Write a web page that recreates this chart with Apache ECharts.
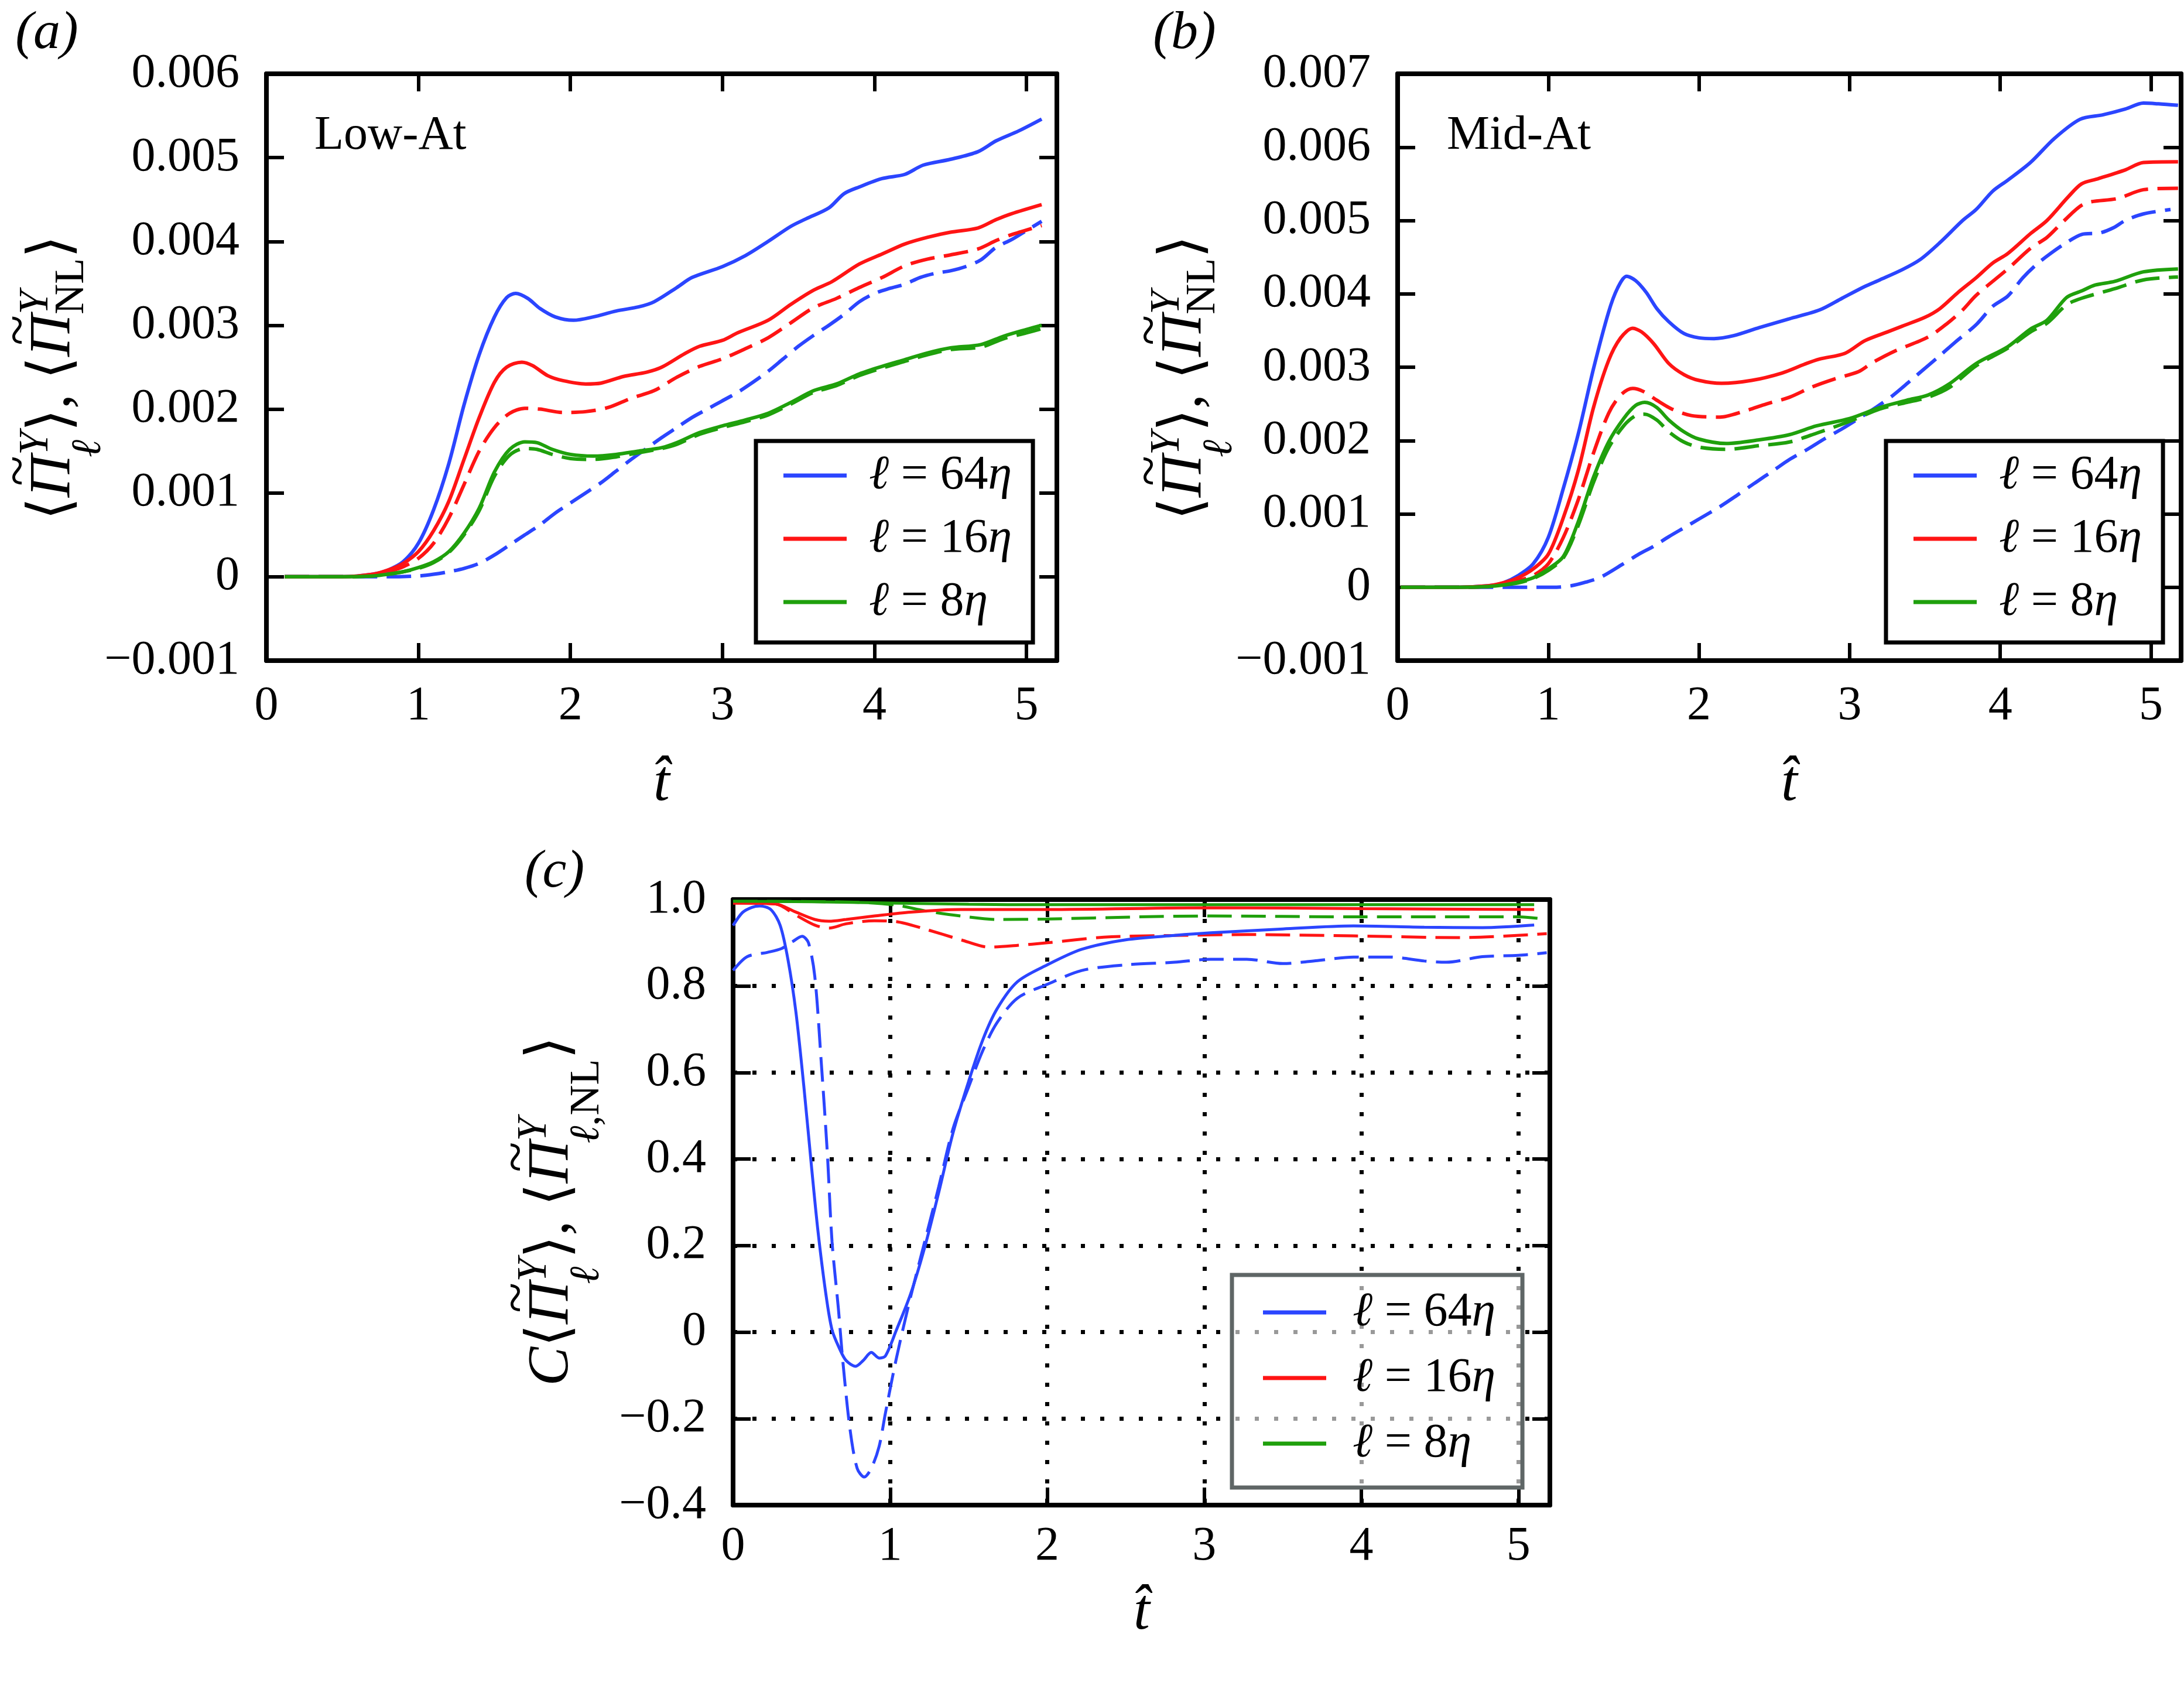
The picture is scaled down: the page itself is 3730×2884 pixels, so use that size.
<!DOCTYPE html>
<html><head><meta charset="utf-8">
<script src="https://cdn.jsdelivr.net/npm/echarts@6/dist/echarts.min.js"></script>
<style>html,body{margin:0;padding:0;background:#fff}#c{width:3730px;height:2884px}</style>
</head><body><div id="c"></div>
<script>
// ---------------- data ----------------
const xTicks = [0, 1, 2, 3, 4, 5];
const xMax = 5.2;
const yTicksA = [-0.001, 0, 0.001, 0.002, 0.003, 0.004, 0.005, 0.006];
const yTicksB = [-0.001, 0, 0.001, 0.002, 0.003, 0.004, 0.005, 0.006, 0.007];
const yTicksC = [-0.4, -0.2, 0, 0.2, 0.4, 0.6, 0.8, 1.0];
const scaleNames = ['64', '16', '8'];

// panel (a) Low-At
const aB64 = [[0.12,0],[0.5,0],[0.7,0.00003],[0.8,0.00008],[0.9,0.00018],[1.0,0.0004],[1.1,0.0008],[1.2,0.00135],[1.3,0.00205],[1.4,0.00265],[1.5,0.0031],[1.58,0.00333],[1.64,0.00338],[1.72,0.00332],[1.8,0.0032],[1.9,0.0031],[2.02,0.00306],[2.15,0.0031],[2.3,0.00317],[2.45,0.00322],[2.55,0.00328],[2.7,0.00345],[2.8,0.00357],[3.0,0.0037],[3.15,0.00383],[3.3,0.004],[3.45,0.00418],[3.55,0.00427],[3.7,0.0044],[3.8,0.00457],[3.9,0.00465],[4.05,0.00475],[4.2,0.0048],[4.32,0.00491],[4.5,0.00498],[4.68,0.00507],[4.8,0.0052],[4.95,0.00532],[5.1,0.00546]];
const aB64nl = [[0.12,0],[0.8,0],[1.0,0.00001],[1.1,0.00003],[1.2,0.00006],[1.3,0.0001],[1.4,0.00016],[1.5,0.00026],[1.6,0.00038],[1.7,0.0005],[1.8,0.00062],[1.9,0.00076],[2.0,0.00088],[2.1,0.001],[2.2,0.00112],[2.3,0.00126],[2.4,0.0014],[2.5,0.00153],[2.6,0.00166],[2.7,0.00178],[2.8,0.0019],[2.9,0.002],[3.0,0.0021],[3.1,0.0022],[3.2,0.00232],[3.3,0.00245],[3.4,0.0026],[3.5,0.00275],[3.6,0.00288],[3.7,0.003],[3.8,0.00313],[3.9,0.00328],[4.0,0.00338],[4.1,0.00344],[4.2,0.00349],[4.3,0.00357],[4.4,0.00362],[4.5,0.00365],[4.6,0.0037],[4.7,0.00378],[4.8,0.00393],[4.9,0.00402],[5.0,0.00413],[5.1,0.00424]];
const aR16 = [[0.12,0],[0.5,0],[0.7,0.00003],[0.8,0.00008],[0.9,0.00016],[1.0,0.0003],[1.1,0.00055],[1.2,0.0009],[1.3,0.0014],[1.4,0.0019],[1.5,0.00232],[1.58,0.0025],[1.68,0.00256],[1.75,0.00252],[1.85,0.0024],[1.95,0.00234],[2.1,0.0023],[2.2,0.00231],[2.35,0.00239],[2.5,0.00244],[2.6,0.0025],[2.75,0.00266],[2.85,0.00275],[3.0,0.00282],[3.1,0.00291],[3.3,0.00306],[3.45,0.00325],[3.6,0.00342],[3.72,0.00352],[3.9,0.00373],[4.05,0.00385],[4.2,0.00397],[4.35,0.00405],[4.5,0.00411],[4.68,0.00416],[4.8,0.00426],[4.9,0.00433],[5.1,0.00444]];
const aR16nl = [[0.12,0],[0.5,0],[0.7,0.00002],[0.8,0.00006],[0.9,0.00012],[1.0,0.00022],[1.1,0.0004],[1.2,0.0007],[1.3,0.0011],[1.4,0.0015],[1.5,0.00178],[1.6,0.00195],[1.7,0.00201],[1.8,0.002],[1.95,0.00196],[2.1,0.00197],[2.25,0.00202],[2.4,0.00213],[2.55,0.00222],[2.7,0.00238],[2.85,0.00251],[3.0,0.0026],[3.15,0.00272],[3.3,0.00285],[3.45,0.00303],[3.6,0.00321],[3.75,0.00332],[3.9,0.00345],[4.05,0.00357],[4.2,0.00371],[4.35,0.00379],[4.5,0.00384],[4.68,0.00391],[4.8,0.00401],[4.9,0.00408],[5.1,0.00419]];
const aG8 = [[0.12,0],[0.5,0],[0.7,0.00001],[0.8,0.00003],[0.9,0.00006],[1.0,0.00011],[1.1,0.00018],[1.2,0.0003],[1.3,0.00052],[1.4,0.00082],[1.5,0.00125],[1.6,0.00152],[1.7,0.00161],[1.78,0.0016],[1.88,0.00152],[2.0,0.00146],[2.15,0.00144],[2.3,0.00146],[2.45,0.0015],[2.6,0.00154],[2.7,0.0016],[2.85,0.00172],[3.0,0.0018],[3.15,0.00187],[3.3,0.00195],[3.45,0.00208],[3.6,0.00222],[3.75,0.0023],[3.9,0.00242],[4.05,0.00251],[4.2,0.00259],[4.35,0.00267],[4.5,0.00273],[4.7,0.00277],[4.85,0.00287],[5.0,0.00295],[5.1,0.003]];
const aG8nl = [[0.12,0],[0.5,0],[0.7,0.00001],[0.8,0.00003],[0.9,0.00006],[1.0,0.0001],[1.1,0.00017],[1.2,0.00029],[1.3,0.0005],[1.4,0.00079],[1.5,0.0012],[1.6,0.00145],[1.7,0.00153],[1.78,0.00152],[1.88,0.00146],[2.0,0.00141],[2.15,0.0014],[2.3,0.00143],[2.45,0.00148],[2.6,0.00153],[2.7,0.00158],[2.85,0.0017],[3.0,0.00178],[3.15,0.00185],[3.3,0.00193],[3.45,0.00206],[3.6,0.0022],[3.75,0.00228],[3.9,0.0024],[4.05,0.00249],[4.2,0.00257],[4.35,0.00265],[4.5,0.00271],[4.7,0.00274],[4.85,0.00284],[5.0,0.00291],[5.1,0.00296]];

// panel (b) Mid-At
const bB64 = [[0.02,0],[0.4,0],[0.6,0.00002],[0.7,0.00006],[0.8,0.00016],[0.9,0.00032],[1.0,0.00068],[1.1,0.00135],[1.2,0.0021],[1.3,0.00298],[1.4,0.00375],[1.46,0.00408],[1.52,0.00424],[1.58,0.00418],[1.65,0.00402],[1.72,0.0038],[1.8,0.00362],[1.9,0.00346],[2.0,0.0034],[2.1,0.00339],[2.23,0.00343],[2.4,0.00354],[2.6,0.00366],[2.8,0.00378],[2.95,0.00394],[3.1,0.0041],[3.2,0.00419],[3.35,0.00433],[3.47,0.00447],[3.6,0.0047],[3.75,0.005],[3.84,0.00515],[3.95,0.0054],[4.05,0.00555],[4.2,0.00579],[4.36,0.00612],[4.53,0.00638],[4.68,0.00644],[4.83,0.00652],[4.95,0.0066],[5.05,0.00659],[5.18,0.00657]];
const bB64nl = [[0.02,0],[0.9,0],[1.03,0],[1.15,0.00002],[1.25,0.00007],[1.35,0.00014],[1.49,0.00031],[1.6,0.00045],[1.7,0.00056],[1.8,0.00069],[1.9,0.00081],[2.0,0.00093],[2.14,0.0011],[2.25,0.00125],[2.37,0.00142],[2.5,0.0016],[2.6,0.00174],[2.72,0.00188],[2.83,0.00202],[2.95,0.00216],[3.06,0.0023],[3.18,0.00246],[3.29,0.00262],[3.4,0.00281],[3.52,0.00302],[3.6,0.00316],[3.7,0.00334],[3.84,0.00358],[3.95,0.00383],[4.05,0.00397],[4.15,0.00422],[4.24,0.0044],[4.34,0.00456],[4.44,0.0047],[4.54,0.00481],[4.66,0.00483],[4.75,0.0049],[4.83,0.005],[4.95,0.00509],[5.13,0.00515]];
const bR16 = [[0.02,0],[0.4,0],[0.6,0.00002],[0.7,0.00006],[0.8,0.00013],[0.9,0.00025],[1.0,0.00045],[1.1,0.00095],[1.2,0.0016],[1.3,0.00245],[1.4,0.00309],[1.48,0.0034],[1.56,0.00353],[1.62,0.00348],[1.7,0.00332],[1.8,0.00305],[1.9,0.0029],[2.0,0.00282],[2.15,0.00278],[2.35,0.00282],[2.55,0.00292],[2.7,0.00304],[2.8,0.00311],[2.97,0.00319],[3.1,0.00336],[3.25,0.00348],[3.35,0.00356],[3.5,0.00368],[3.6,0.0038],[3.72,0.00402],[3.84,0.00422],[3.95,0.00442],[4.05,0.00455],[4.2,0.00482],[4.31,0.005],[4.45,0.00532],[4.54,0.0055],[4.65,0.00557],[4.83,0.00569],[4.95,0.00579],[5.18,0.0058]];
const bR16nl = [[0.02,0],[0.4,0],[0.6,0.00001],[0.7,0.00004],[0.8,0.00009],[0.9,0.00016],[1.0,0.00032],[1.1,0.00068],[1.2,0.0012],[1.3,0.00183],[1.4,0.00237],[1.48,0.00262],[1.56,0.00271],[1.63,0.00267],[1.72,0.00255],[1.82,0.00243],[1.95,0.00234],[2.14,0.00232],[2.3,0.0024],[2.45,0.0025],[2.6,0.00259],[2.75,0.00273],[2.9,0.00284],[3.06,0.00294],[3.15,0.00306],[3.3,0.00322],[3.52,0.00341],[3.65,0.0036],[3.75,0.00378],[3.84,0.00398],[4.05,0.00434],[4.2,0.00462],[4.31,0.00477],[4.42,0.00499],[4.56,0.00523],[4.78,0.0053],[4.95,0.00542],[5.18,0.00544]];
const bG8 = [[0.02,0],[0.4,0],[0.6,0.00001],[0.7,0.00003],[0.8,0.00007],[0.9,0.00013],[1.0,0.00025],[1.1,0.00042],[1.2,0.0009],[1.3,0.0015],[1.4,0.00198],[1.5,0.0023],[1.58,0.00248],[1.64,0.00252],[1.72,0.00245],[1.8,0.00228],[1.9,0.00212],[2.0,0.00202],[2.18,0.00196],[2.4,0.00201],[2.6,0.00208],[2.78,0.0022],[3.0,0.0023],[3.2,0.00245],[3.38,0.00255],[3.52,0.00262],[3.66,0.00277],[3.84,0.00305],[4.05,0.00328],[4.2,0.00352],[4.31,0.00364],[4.44,0.00395],[4.54,0.00404],[4.63,0.00412],[4.76,0.00417],[4.95,0.0043],[5.18,0.00434]];
const bG8nl = [[0.02,0],[0.4,0],[0.6,0.00001],[0.7,0.00003],[0.8,0.00006],[0.9,0.00012],[1.0,0.00023],[1.1,0.0004],[1.2,0.00085],[1.3,0.00143],[1.4,0.0019],[1.5,0.0022],[1.58,0.00234],[1.64,0.00236],[1.72,0.00228],[1.8,0.00212],[1.9,0.00198],[2.0,0.00191],[2.18,0.00188],[2.4,0.00193],[2.6,0.00198],[2.78,0.0021],[3.01,0.00227],[3.2,0.00243],[3.38,0.00252],[3.52,0.00259],[3.66,0.00272],[3.84,0.00302],[4.05,0.00326],[4.2,0.00348],[4.31,0.0036],[4.44,0.00385],[4.54,0.00394],[4.76,0.00407],[4.95,0.00419],[5.18,0.00423]];

// panel (c) correlation
const cB64 = [[0,0.94],[0.06,0.97],[0.12,0.982],[0.17,0.985],[0.24,0.977],[0.3,0.94],[0.35,0.86],[0.4,0.74],[0.45,0.57],[0.5,0.38],[0.54,0.235],[0.59,0.09],[0.63,0.005],[0.68,-0.04],[0.72,-0.066],[0.78,-0.079],[0.83,-0.065],[0.88,-0.047],[0.93,-0.06],[0.97,-0.055],[1.04,0.005],[1.13,0.088],[1.22,0.196],[1.31,0.324],[1.4,0.46],[1.5,0.58],[1.59,0.676],[1.68,0.747],[1.81,0.81],[2.0,0.849],[2.22,0.885],[2.5,0.907],[2.81,0.917],[3.04,0.923],[3.5,0.932],[3.95,0.939],[4.4,0.936],[4.77,0.935],[5.1,0.941]];
const cB64nl = [[0,0.836],[0.09,0.868],[0.22,0.878],[0.31,0.887],[0.38,0.903],[0.44,0.915],[0.48,0.9],[0.52,0.823],[0.56,0.631],[0.6,0.414],[0.63,0.209],[0.67,0.056],[0.7,-0.072],[0.745,-0.226],[0.79,-0.315],[0.835,-0.335],[0.88,-0.315],[0.93,-0.264],[0.97,-0.187],[1.04,-0.06],[1.13,0.081],[1.22,0.209],[1.31,0.337],[1.4,0.47],[1.5,0.567],[1.59,0.651],[1.68,0.715],[1.81,0.772],[2.0,0.804],[2.22,0.836],[2.5,0.849],[2.81,0.855],[3.04,0.862],[3.27,0.862],[3.5,0.852],[3.72,0.859],[3.95,0.867],[4.18,0.867],[4.4,0.858],[4.54,0.855],[4.77,0.868],[5.0,0.871],[5.18,0.877]];
const cR16 = [[0,0.992],[0.27,0.99],[0.4,0.971],[0.52,0.954],[0.61,0.95],[0.72,0.954],[0.9,0.962],[1.13,0.971],[1.45,0.977],[2.0,0.977],[3.04,0.981],[4.0,0.979],[5.1,0.977]];
const cR16nl = [[0,0.992],[0.27,0.99],[0.4,0.964],[0.52,0.941],[0.61,0.934],[0.72,0.944],[0.9,0.951],[1.04,0.949],[1.22,0.932],[1.45,0.907],[1.63,0.89],[1.81,0.894],[2.0,0.9],[2.36,0.913],[2.81,0.917],[3.27,0.919],[3.95,0.916],[4.63,0.912],[5.18,0.921]];
const cG8 = [[0,0.996],[0.5,0.995],[1.0,0.992],[1.5,0.989],[2.0,0.988],[3.0,0.988],[4.0,0.988],[5.1,0.988]];
const cG8nl = [[0,0.996],[0.77,0.994],[1.04,0.987],[1.22,0.974],[1.45,0.962],[1.68,0.954],[2.0,0.955],[2.59,0.96],[3.04,0.962],[3.95,0.96],[5.0,0.96],[5.18,0.954]];

// ---------------- styling ----------------
const SERIF = "'Liberation Serif', 'Times New Roman', 'DejaVu Serif', serif";
const BLUE = '#2b45ff', RED = '#ff1414', GREEN = '#1fa00c';
const grids = [
  {left: 455, top: 126, width: 1350, height: 1002},
  {left: 2387, top: 126, width: 1338, height: 1002},
  {left: 1252, top: 1536, width: 1395, height: 1034}
];
const FRAME = 8;
const TICK_FONT = 82;

function findTick(ticks, v) {
  for (const t of ticks) if (Math.abs(t - v) < 1e-9) return t;
  return null;
}
function yFmt(ticks, dec) {
  return function (v) {
    const t = findTick(ticks, v);
    if (t === null) return '';
    if (Math.abs(t) < 1e-12) return '0';
    return (t < 0 ? '\u2212' : '') + Math.abs(t).toFixed(dec);
  };
}
function xFmt(v) {
  const t = findTick(xTicks, v);
  return t === null ? '' : String(t);
}

const xAxes = [], yAxes = [];
function addAxes(g, yTicks, dec, dotted, xMargin) {
  const tickStyle = {inside: true, length: 30, lineStyle: {color: '#000', width: 6}};
  const split = {show: dotted, lineStyle: {color: '#000', width: 7, type: [7, 26]}};
  const yMin = yTicks[0], yMaxV = yTicks[yTicks.length - 1];
  const yInt = +(yTicks[1] - yTicks[0]).toPrecision(6);
  xAxes.push({gridIndex: g, type: 'value', position: 'bottom', min: xTicks[0], max: xMax, interval: 1,
    axisLine: {show: true, onZero: false, lineStyle: {color: '#000', width: FRAME}},
    axisTick: tickStyle,
    axisLabel: {margin: xMargin, fontSize: TICK_FONT, fontFamily: SERIF, color: '#000', formatter: xFmt},
    splitLine: split});
  xAxes.push({gridIndex: g, type: 'value', position: 'top', min: xTicks[0], max: xMax, interval: 1,
    axisLine: {show: true, onZero: false, lineStyle: {color: '#000', width: FRAME}},
    axisTick: tickStyle, axisLabel: {show: false}, splitLine: {show: false}});
  yAxes.push({gridIndex: g, type: 'value', position: 'left', min: yMin, max: yMaxV, interval: yInt,
    axisLine: {show: true, onZero: false, lineStyle: {color: '#000', width: FRAME}},
    axisTick: tickStyle,
    axisLabel: {margin: 46, fontSize: TICK_FONT, fontFamily: SERIF, color: '#000', formatter: yFmt(yTicks, dec)},
    splitLine: split});
  yAxes.push({gridIndex: g, type: 'value', position: 'right', min: yMin, max: yMaxV, interval: yInt,
    axisLine: {show: true, onZero: false, lineStyle: {color: '#000', width: FRAME}},
    axisTick: tickStyle, axisLabel: {show: false}, splitLine: {show: false}});
}
addAxes(0, yTicksA, 3, false, 37);
addAxes(1, yTicksB, 3, false, 37);
addAxes(2, yTicksC, 1, true, 30);

const series = [];
function addLine(g, name, data, color, dashed, width) {
  series.push({type: 'line', name: name, xAxisIndex: g * 2, yAxisIndex: g * 2, data: data,
    symbol: 'none', showSymbol: false, smooth: 0.3, clip: true, animation: false,
    lineStyle: {color: color, width: width, type: dashed ? [42, 16] : 'solid', cap: 'butt'},
    itemStyle: {color: color}, z: dashed ? 3 : 4, silent: true});
}
const panels = [
  [aB64, aB64nl, aR16, aR16nl, aG8, aG8nl],
  [bB64, bB64nl, bR16, bR16nl, bG8, bG8nl],
  [cB64, cB64nl, cR16, cR16nl, cG8, cG8nl]
];
const colors = [BLUE, RED, GREEN];
panels.forEach((p, g) => {
  const w = g === 2 ? 5 : 6;
  for (let k = 0; k < 3; k++) {
    addLine(g, 'l' + scaleNames[k] + 'nl', p[2 * k + 1], colors[k], true, w);
    addLine(g, 'l' + scaleNames[k], p[2 * k], colors[k], false, w);
  }
});

function legendCfg(left, top, pad, border, bg, gap, textPad) {
  return {
    orient: 'vertical', left: left, top: top, itemWidth: 108, itemHeight: 7, itemGap: gap,
    padding: pad, borderColor: border, borderWidth: 7, backgroundColor: bg, borderRadius: 0,
    selectedMode: false,
    data: scaleNames.map(s => ({name: 'l' + s, icon: 'rect'})),
    formatter: function (name) {
      return '{g|\u2113}{n| = ' + name.slice(1) + '}{e|\u03b7}';
    },
    textStyle: {fontSize: 82, fontFamily: SERIF, color: '#000', lineHeight: 82,
      rich: {
        g: {fontSize: 82, fontFamily: SERIF, fontStyle: 'italic', lineHeight: 82, padding: [0, 0, 0, textPad], color: '#000'},
        n: {fontSize: 82, fontFamily: SERIF, lineHeight: 82, color: '#000'},
        e: {fontSize: 82, fontFamily: SERIF, fontStyle: 'italic', lineHeight: 82, color: '#000'}
      }}
  };
}

// ---- rotated math labels built from measured text pieces ----
const mctx = document.createElement('canvas').getContext('2d');
function fontStr(size, italic) { return (italic ? 'italic ' : 'normal ') + 'normal ' + size + 'px ' + SERIF; }
function measure(t, size, italic) { mctx.font = fontStr(size, italic); return mctx.measureText(t).width; }
function mathLabel(x0, y0, pieces) {
  let cx = 0;
  const kids = [];
  const put = (p, x) => { kids.push({x: x + (p.dx || 0), y: p.dy || 0, t: p.t, s: p.s, it: !!p.it}); return measure(p.t, p.s, p.it) + (p.dx || 0); };
  for (const p of pieces) {
    if (p.rows) {
      let maxW = 0;
      for (const row of p.rows) {
        let rx = cx;
        for (const q of row) rx += put(q, rx);
        maxW = Math.max(maxW, rx - cx);
      }
      cx += maxW;
      continue;
    }
    const w = measure(p.t, p.s, p.it);
    kids.push({x: cx, y: p.dy || 0, t: p.t, s: p.s, it: !!p.it});
    if (p.tilde) {
      const tw = measure('~', 96, false);
      kids.push({x: cx + (w - tw) / 2 + 9, y: -57, t: '~', s: 96, it: false});
    }
    cx += w;
  }
  const W = cx;
  return {type: 'group', x: x0, y: y0, rotation: Math.PI / 2, silent: true, z: 10,
    children: kids.map(k => ({type: 'text', x: k.x - W / 2, y: k.y, silent: true,
      style: {text: k.t, fontSize: k.s, fontFamily: SERIF, fontStyle: k.it ? 'italic' : 'normal',
        fill: '#000', align: 'left', verticalAlign: 'middle'}}))};
}
const MAIN = 100, SUB = 72;
const P_PI = {t: '\u03a0', s: MAIN, it: true, tilde: true};
const SUP_Y = {t: 'Y', s: SUB, it: true, dy: -30};
const SUB_L = {t: '\u2113', s: SUB, it: true, dy: 60, dx: -4};
const labelABPieces = [
  {t: '\u27e8', s: MAIN}, P_PI, {rows: [[SUP_Y], [SUB_L]]},
  {t: '\u27e9, \u27e8', s: MAIN}, P_PI, {rows: [[SUP_Y], [{t: 'NL', s: SUB, dy: 31}]]},
  {t: '\u27e9', s: MAIN}
];
const labelCPieces = [
  {t: 'C', s: MAIN, it: true}, {t: '\u27e8', s: MAIN}, P_PI, {rows: [[SUP_Y], [SUB_L]]},
  {t: '\u27e9, \u27e8', s: MAIN}, P_PI,
  {rows: [[SUP_Y], [SUB_L, {t: ',NL', s: SUB, dy: 60}]]},
  {t: '\u27e9', s: MAIN}
];

function txt(x, y, text, size, italic, align) {
  return {type: 'text', x: x, y: y, silent: true, z: 10,
    style: {text: text, fontSize: size, fontFamily: SERIF, fontStyle: italic ? 'italic' : 'normal',
      fill: '#000', align: align || 'center', verticalAlign: 'middle'}};
}

const option = {
  backgroundColor: '#fff',
  animation: false,
  textStyle: {fontFamily: SERIF},
  grid: grids.map(g => Object.assign({containLabel: false, outerBoundsMode: 'none'}, g)),
  xAxis: xAxes,
  yAxis: yAxes,
  legend: [
    legendCfg(1291, 753, [18, 36, 28, 47], '#000', '#fff', 26, 33),
    legendCfg(3221, 753, [18, 36, 28, 47], '#000', '#fff', 26, 33),
    legendCfg(2104, 2177, [23, 46, 34, 53], '#5f6666', 'rgba(255,255,255,0.6)', 30, 40)
  ],
  series: series,
  graphic: [
    txt(80, 58, '(a)', 92, true),
    txt(2023, 58, '(b)', 92, true),
    txt(947, 1490, '(c)', 92, true),
    txt(537, 232, 'Low-At', 82, false, 'left'),
    txt(2471, 232, 'Mid-At', 82, false, 'left'),
    txt(1130, 1340, 't\u0302', 100, true),
    txt(3056, 1340, 't\u0302', 100, true),
    txt(1950, 2755, 't\u0302', 100, true),
    mathLabel(92, 645, labelABPieces),
    mathLabel(2024, 645, labelABPieces),
    mathLabel(943, 2068, labelCPieces)
  ]
};
const chart = echarts.init(document.getElementById('c'), null, {renderer: 'canvas'});
chart.setOption(option);
</script></body></html>
